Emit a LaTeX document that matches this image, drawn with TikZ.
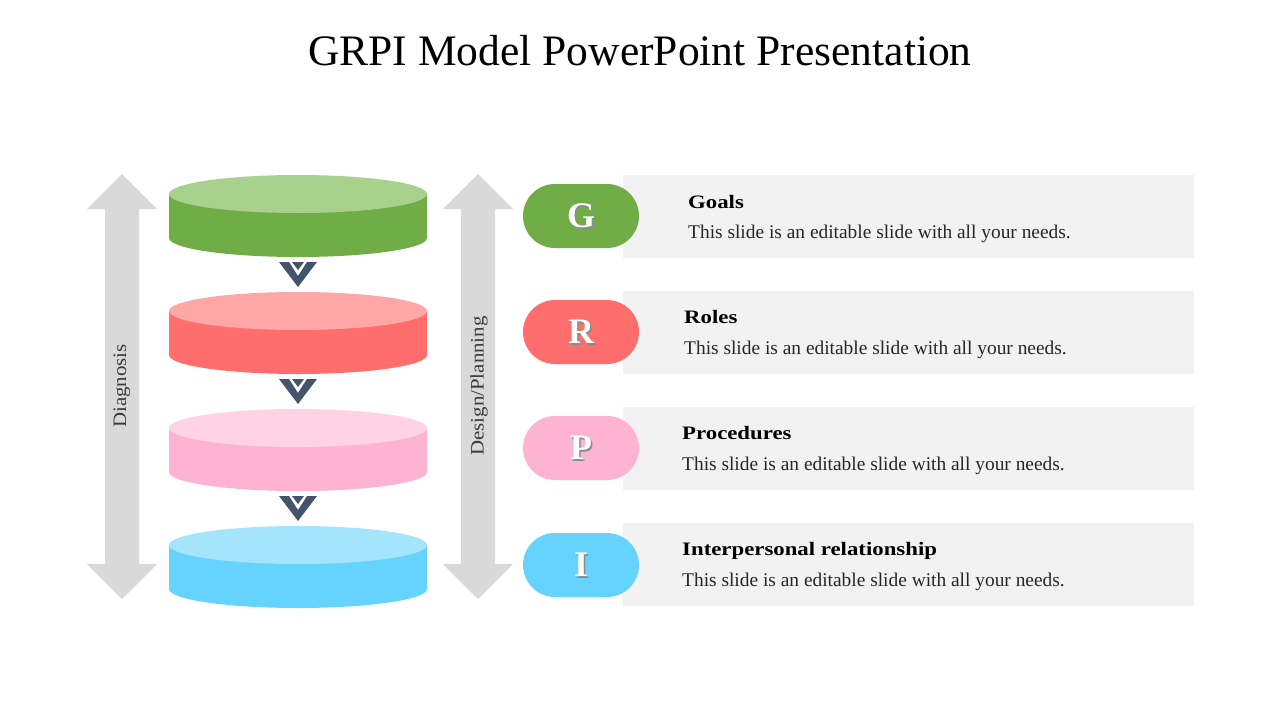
\documentclass[tikz,border=0pt]{standalone}
\usepackage{fontspec}
\setmainfont{Liberation Serif}
\newfontfamily\headfont[FakeStretch=1.2]{Liberation Serif}
\newfontfamily\vfont[FakeStretch=1.1]{Liberation Serif}
\usetikzlibrary{shapes.misc}
\definecolor{gtop}{HTML}{A9D18E}\definecolor{gside}{HTML}{70AD47}
\definecolor{rtop}{HTML}{FFA7A7}\definecolor{rside}{HTML}{FF6D6D}
\definecolor{ptop}{HTML}{FFD3E4}\definecolor{pside}{HTML}{FFB3D2}
\definecolor{btop}{HTML}{A4E5FC}\definecolor{bside}{HTML}{66D3FF}
\definecolor{arrowgray}{HTML}{D9D9D9}\definecolor{boxgray}{HTML}{F2F2F2}
\definecolor{chev}{HTML}{44546A}\definecolor{labeltxt}{HTML}{3A3A3A}
\tikzset{
  pill/.style={rounded rectangle, minimum width=116pt, minimum height=64pt, inner sep=0pt},
  infobox/.style={fill=boxgray, minimum width=571pt, minimum height=83pt, inner sep=0pt, anchor=north west},
  letter/.style={text=white, font=\fontsize{36}{36}\selectfont\bfseries, inner sep=0pt},
  lshadow/.style={text=black!45, font=\fontsize{36}{36}\selectfont\bfseries, inner sep=0pt},
  heading/.style={anchor=base west, inner sep=0pt, font=\headfont\fontsize{19}{19}\selectfont\bfseries, text=black},
  body/.style={anchor=base west, inner sep=0pt, font=\fontsize{19.4}{19.4}\selectfont, text=black!85},
  vlabel/.style={rotate=90, inner sep=0pt, font=\vfont\fontsize{19}{19}\selectfont, text=labeltxt},
}
\newcommand{\cyl}[3]{% center y, top colour, side colour
  \fill[#3] (169,-#1) -- (169,-#1-44) arc[start angle=180,end angle=360,x radius=129,y radius=19] -- (427,-#1) -- cycle;
  \fill[#2] (298,-#1) ellipse[x radius=129,y radius=19];
}
\newcommand{\chevron}[1]{% top y
  \fill[chev] (279,-#1) -- (289,-#1) -- (298,-#1-14) -- (307,-#1) -- (317,-#1) -- (298,-#1-25) -- cycle;
  \fill[chev] (292,-#1) -- (304,-#1) -- (298,-#1-8) -- cycle;
}
\newcommand{\bigarrow}[1]{% center x
  \fill[arrowgray] (#1,-174) -- (#1+35,-209) -- (#1+17,-209) -- (#1+17,-564) -- (#1+35,-564)
    -- (#1,-599) -- (#1-35,-564) -- (#1-17,-564) -- (#1-17,-209) -- (#1-35,-209) -- cycle;
}
\begin{document}
\begin{tikzpicture}[x=1pt,y=1pt]
\useasboundingbox (0,0) rectangle (1280,-720);
\fill[white] (0,0) rectangle (1280,-720);

\node[anchor=base, inner sep=0pt, font=\fontsize{43.5}{43.5}\selectfont] (title) at (640,-65) {GRPI Model PowerPoint Presentation};

% side arrows
\bigarrow{122}
\bigarrow{478}
\node[vlabel] (diag) at (122,-386) {Diagnosis};
\node[vlabel] (plan) at (479,-386) {Design/Planning};

% cylinders
\cyl{194}{gtop}{gside}
\cyl{311}{rtop}{rside}
\cyl{428}{ptop}{pside}
\cyl{545}{btop}{bside}
\chevron{262}
\chevron{379}
\chevron{496}

% info boxes
\node[infobox] (boxG) at (623,-175) {};
\node[infobox] (boxR) at (623,-291) {};
\node[infobox] (boxP) at (623,-407) {};
\node[infobox] (boxI) at (623,-523) {};

% pills
\node[pill, fill=gside] (pG) at (581,-216) {};
\node[pill, fill=rside] (pR) at (581,-332) {};
\node[pill, fill=pside] (pP) at (581,-448) {};
\node[pill, fill=bside] (pI) at (581,-565) {};
\foreach \n/\l in {pG/G,pR/R,pP/P,pI/I}{
  \node[lshadow] at ([xshift=1.5pt,yshift=-1.5pt]\n.center) {\l};
  \node[letter] (L\n) at (\n.center) {\l};
}

% texts
\node[heading] (hG) at (688,-208) {Goals};
\node[body] (tG) at (688,-238) {This slide is an editable slide with all your needs.};
\node[heading] (hR) at (684,-323) {Roles};
\node[body] (tR) at (684,-354) {This slide is an editable slide with all your needs.};
\node[heading] (hP) at (682,-439) {Procedures};
\node[body] (tP) at (682,-470) {This slide is an editable slide with all your needs.};
\node[heading] (hI) at (682,-555) {Interpersonal relationship};
\node[body] (tI) at (682,-586) {This slide is an editable slide with all your needs.};
\end{tikzpicture}
\end{document}
